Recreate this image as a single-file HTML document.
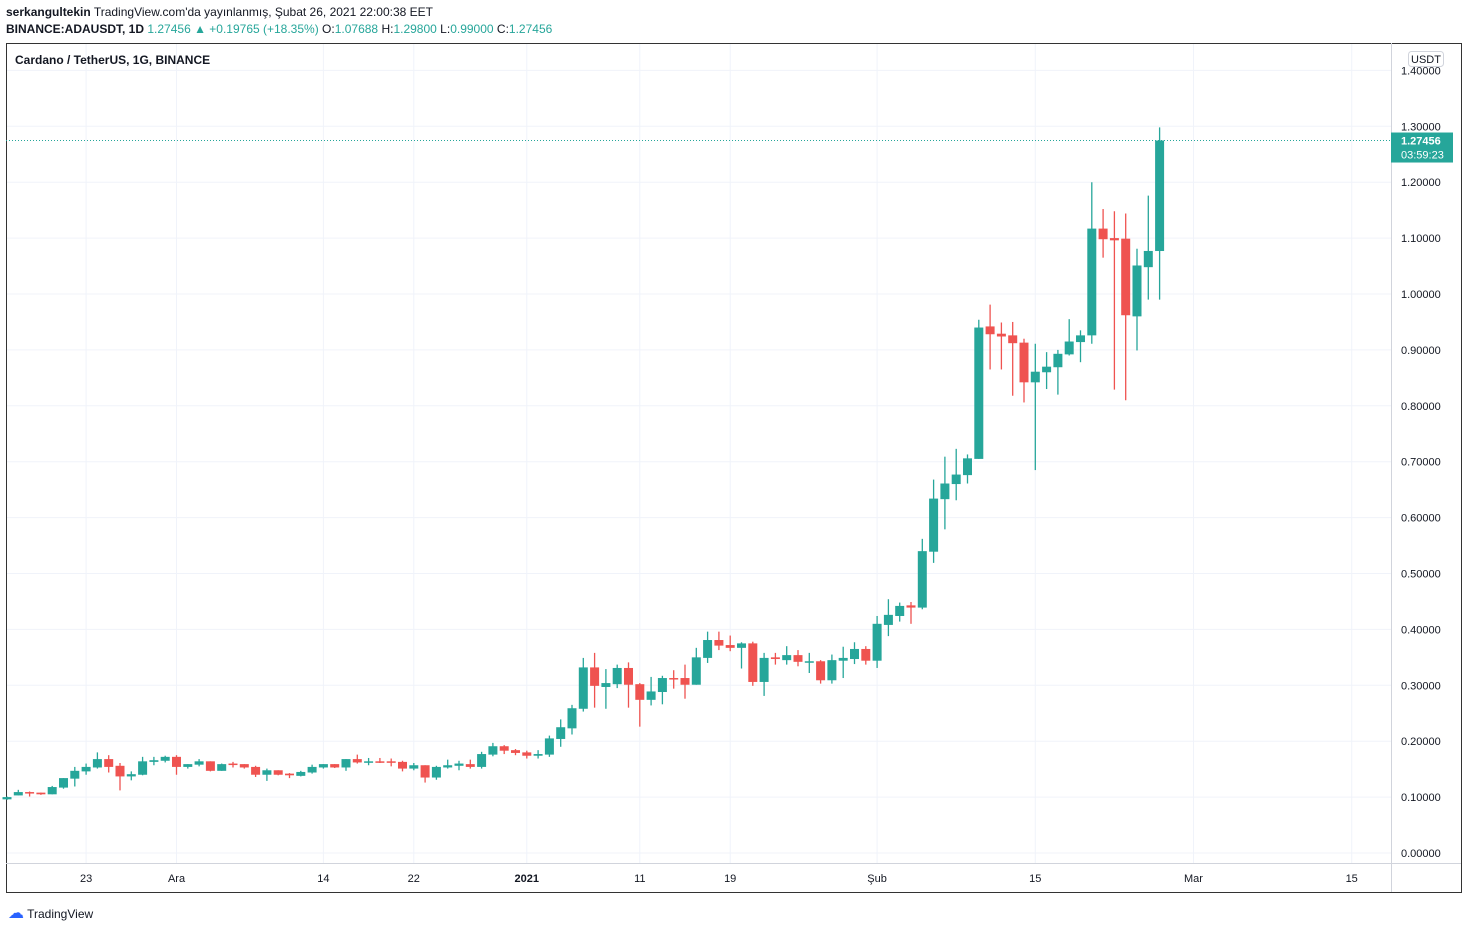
<!DOCTYPE html>
<html><head><meta charset="utf-8"><style>
body{margin:0;width:1468px;height:929px;background:#fff;font-family:"Liberation Sans",sans-serif;overflow:hidden;position:relative}
.t{position:absolute;font-size:12px;color:#131722;white-space:nowrap}
.g{color:#26a69a}
</style></head><body>
<div class="t" style="left:6px;top:5px"><b>serkangultekin</b> TradingView.com'da yayınlanmış, Şubat 26, 2021 22:00:38 EET</div>
<div class="t" style="left:6px;top:22px"><b>BINANCE:ADAUSDT, 1D</b> <span class="g">1.27456 ▲ +0.19765 (+18.35%)</span> O:<span class="g">1.07688</span> H:<span class="g">1.29800</span> L:<span class="g">0.99000</span> C:<span class="g">1.27456</span></div>
<svg id="c" width="1468" height="929" style="position:absolute;left:0;top:0"></svg>
<div class="t" style="left:15px;top:53px;font-weight:bold">Cardano / TetherUS, 1G, BINANCE</div>
<div class="t" style="left:8px;top:903px"><span style="color:#2962ff;font-size:16px">☁</span> TradingView</div>
<script>
const opens=[0.096,0.103,0.109,0.108,0.105,0.117,0.133,0.146,0.153,0.168,0.156,0.137,0.14,0.163,0.165,0.172,0.154,0.158,0.164,0.147,0.16,0.159,0.154,0.14,0.148,0.142,0.138,0.144,0.153,0.159,0.153,0.168,0.162,0.164,0.164,0.163,0.151,0.157,0.135,0.153,0.156,0.159,0.154,0.176,0.191,0.184,0.18,0.174,0.176,0.204,0.223,0.258,0.332,0.297,0.302,0.331,0.302,0.274,0.288,0.313,0.313,0.301,0.349,0.381,0.372,0.367,0.375,0.306,0.35,0.345,0.354,0.342,0.343,0.309,0.344,0.347,0.365,0.344,0.408,0.424,0.443,0.439,0.539,0.633,0.66,0.676,0.705,0.942,0.929,0.926,0.913,0.842,0.86,0.869,0.892,0.914,0.926,1.117,1.1,1.099,0.96,1.048,1.0769];
const highs=[0.101,0.113,0.11,0.108,0.12,0.134,0.154,0.16,0.18,0.175,0.161,0.146,0.172,0.172,0.174,0.175,0.159,0.168,0.164,0.16,0.163,0.159,0.156,0.151,0.148,0.143,0.147,0.158,0.159,0.159,0.168,0.176,0.17,0.17,0.169,0.165,0.161,0.157,0.156,0.167,0.165,0.167,0.181,0.197,0.193,0.186,0.183,0.184,0.21,0.239,0.265,0.349,0.358,0.329,0.337,0.341,0.304,0.315,0.317,0.327,0.337,0.367,0.396,0.396,0.389,0.377,0.378,0.358,0.358,0.37,0.363,0.358,0.345,0.355,0.369,0.377,0.37,0.424,0.454,0.448,0.449,0.562,0.668,0.709,0.723,0.713,0.954,0.981,0.949,0.95,0.92,0.911,0.896,0.9,0.955,0.935,1.2,1.152,1.148,1.144,1.081,1.176,1.298];
const lows=[0.095,0.103,0.101,0.104,0.105,0.115,0.119,0.14,0.151,0.144,0.112,0.13,0.139,0.157,0.162,0.14,0.151,0.155,0.146,0.147,0.153,0.151,0.136,0.129,0.139,0.134,0.137,0.142,0.151,0.152,0.147,0.16,0.157,0.161,0.155,0.146,0.148,0.126,0.131,0.151,0.148,0.151,0.151,0.173,0.177,0.175,0.169,0.169,0.172,0.19,0.212,0.253,0.26,0.258,0.295,0.26,0.226,0.264,0.266,0.294,0.276,0.301,0.34,0.363,0.361,0.33,0.299,0.281,0.337,0.337,0.334,0.322,0.303,0.303,0.313,0.338,0.337,0.331,0.388,0.414,0.41,0.436,0.519,0.579,0.631,0.661,0.705,0.865,0.865,0.818,0.806,0.685,0.83,0.82,0.89,0.878,0.911,1.065,0.829,0.81,0.899,0.99,0.99];
const closes=[0.1,0.109,0.107,0.105,0.118,0.134,0.147,0.154,0.168,0.154,0.137,0.141,0.164,0.166,0.172,0.154,0.159,0.164,0.147,0.159,0.158,0.153,0.14,0.148,0.14,0.139,0.145,0.154,0.159,0.153,0.168,0.162,0.164,0.163,0.162,0.151,0.157,0.135,0.154,0.157,0.16,0.154,0.177,0.191,0.183,0.179,0.174,0.177,0.205,0.225,0.259,0.332,0.299,0.304,0.331,0.301,0.274,0.289,0.313,0.312,0.301,0.35,0.381,0.371,0.367,0.375,0.306,0.349,0.347,0.354,0.342,0.343,0.309,0.345,0.349,0.365,0.344,0.41,0.426,0.442,0.439,0.54,0.634,0.661,0.677,0.706,0.94,0.928,0.924,0.912,0.842,0.861,0.87,0.893,0.915,0.926,1.117,1.098,1.096,0.962,1.051,1.077,1.27456];
const priceTicks=["0.00000","0.10000","0.20000","0.30000","0.40000","0.50000","0.60000","0.70000","0.80000","0.90000","1.00000","1.10000","1.20000","1.30000","1.40000"];
const dateLabels=["23","Ara","14","22","2021","11","19","Şub","15","Mar","15"];
const dateDays=[7,15,28,36,46,56,64,77,91,105,119];
const lastPrice=1.27456;
const svg=document.getElementById('c');const NS='http://www.w3.org/2000/svg';
const X=i=>7+i*11.3, Y=p=>853-p*559;
function mk(t,a,p){const e=document.createElementNS(NS,t);for(const k in a)e.setAttribute(k,a[k]);(p||svg).appendChild(e);return e;}
// grid
priceTicks.forEach((s,i)=>{const p=parseFloat(s);const y=Y(p);
const l=mk('line',{x1:6,x2:1391,y1:y,y2:y,stroke:'#f0f3fa'});


const t=mk('text',{x:1401,y:y+4,'font-size':11,fill:'#131722','font-family':'Liberation Sans'});t.textContent=s;

});
dateLabels.forEach((s,i)=>{const x=X(dateDays[i]);
const l=mk('line',{x1:x,x2:x,y1:43,y2:863,stroke:'#f0f3fa'});


const t=mk('text',{x:x,y:882,'font-size':11,fill:'#131722','text-anchor':'middle','font-family':'Liberation Sans','font-weight':s==='2021'?'bold':'normal'});t.textContent=s;

});
// frame
const fr=mk('rect',{x:6.5,y:43.5,width:1455,height:849,fill:'none',stroke:'#333','stroke-width':1});


mk('line',{x1:1391.5,x2:1391.5,y1:43,y2:892,stroke:'#d1d4dc'});
mk('line',{x1:6,x2:1461,y1:863.5,y2:863.5,stroke:'#d1d4dc'});
// candles
opens.forEach((o,i)=>{const c=closes[i],h=highs[i],lo=lows[i];const up=c>=o;const col=up?'#26a69a':'#ef5350';const x=X(i);
const g=mk('g',{});


mk('line',{x1:x,x2:x,y1:Y(h),y2:Y(lo),stroke:col,'stroke-width':1.3},g);
const top=Y(Math.max(o,c)),bot=Y(Math.min(o,c));
mk('rect',{x:x-4.5,y:top,width:9,height:Math.max(1.5,bot-top),fill:col},g);});
// last price line
const ly=Y(lastPrice);
const pl=mk('line',{x1:6,x2:1391,y1:ly,y2:ly,stroke:'#26a69a','stroke-dasharray':'1 2'});


const lb=mk('rect',{x:1391,y:ly-8,width:62,height:30,fill:'#26a69a'});


const t1=mk('text',{x:1401,y:ly+4,'font-size':11,fill:'#fff','font-weight':'bold','font-family':'Liberation Sans'});t1.textContent=lastPrice.toFixed(5);
const t2=mk('text',{x:1401,y:ly+18,'font-size':11,fill:'#fff','font-family':'Liberation Sans'});t2.textContent='03:59:23';
const ub=mk('rect',{x:1408.5,y:51.5,width:35,height:15,rx:3,fill:'#fff',stroke:'#d1d4dc'});


const ut=mk('text',{x:1426,y:63,'font-size':11,fill:'#131722','text-anchor':'middle','font-family':'Liberation Sans'});ut.textContent='USDT';
</script>
</body></html>
